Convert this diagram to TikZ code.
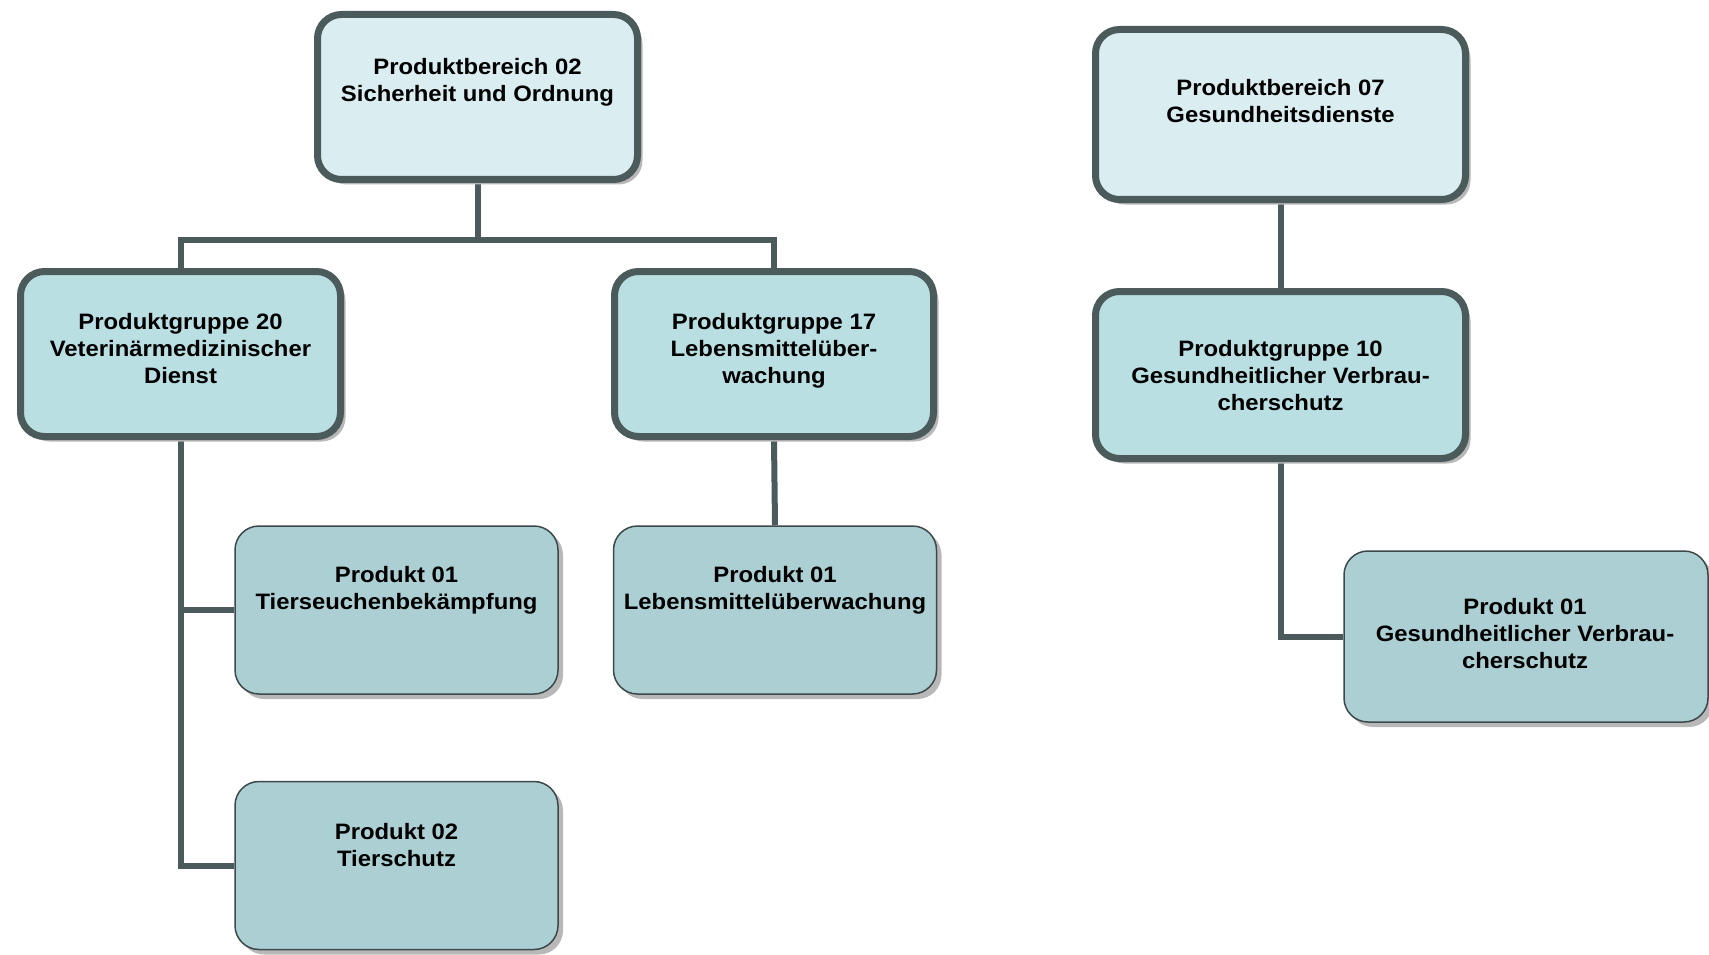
\documentclass[tikz,border=0pt]{standalone}
\usepackage{fontspec}
\setmainfont{Liberation Sans}[FakeStretch=1.07]
\usetikzlibrary{shadows,backgrounds}
\definecolor{bord}{HTML}{4B5A5B}
\definecolor{pbfill}{HTML}{DAEDF0}
\definecolor{pgfill}{HTML}{B9DFE3}
\definecolor{prfill}{HTML}{ABCFD2}
\definecolor{shad}{HTML}{B8B8B8}
\begin{document}
\begin{tikzpicture}[x=1pt,y=-1pt,
  thick box/.style={draw=bord, line width=7pt, rounded corners=24pt, inner sep=0pt,
    drop shadow={shadow xshift=5pt, shadow yshift=-5pt, fill=shad, opacity=1}},
  pbbox/.style={thick box, fill=pbfill},
  pgbox/.style={thick box, fill=pgfill},
  prbox/.style={draw=bord!80!black, line width=1.5pt, rounded corners=24pt, fill=prfill, inner sep=0pt,
    drop shadow={shadow xshift=5pt, shadow yshift=-5pt, fill=shad, opacity=1}},
  txt/.style={anchor=north, align=center, inner sep=0pt, font=\bfseries\fontsize{22.3}{27}\selectfont},
  conn/.style={draw=bord, line width=6pt}
]
\useasboundingbox (0,0) rectangle (1709,955);

\node[pbbox, minimum width=320pt, minimum height=165pt] (pb02) at (477.5,97) {};
\node[pgbox, minimum width=320pt, minimum height=165pt] (pg20) at (180.5,354) {};
\node[pgbox, minimum width=319pt, minimum height=165pt] (pg17) at (774,354) {};
\node[prbox, minimum width=323pt, minimum height=168pt] (p01a) at (396.5,610) {};
\node[prbox, minimum width=323pt, minimum height=168pt] (p02) at (396.5,865.5) {};
\node[prbox, minimum width=323pt, minimum height=168pt] (p01b) at (775,610) {};
\node[pbbox, minimum width=370pt, minimum height=170pt] (pb07) at (1280.5,114.5) {};
\node[pgbox, minimum width=370pt, minimum height=167pt] (pg10) at (1280.5,375) {};
\node[prbox, minimum width=364pt, minimum height=171pt] (p01c) at (1526,636.5) {};

\coordinate (j1) at (477.5,240);

\begin{scope}[on background layer]
\draw[conn] (pb02.south) -- (j1) -| (pg20.north);
\draw[conn] (j1) -| (pg17.north);
\draw[conn] (pg20.south) |- (p01a.west);
\draw[conn] (pg20.south) |- (p02.west);
\draw[conn] (pg17.south) -- (p01b.north);
\draw[conn] (pb07.south) -- (pg10.north);
\draw[conn] (pg10.south) |- (p01c.west);
\end{scope}

\node[txt] (t1) at (477.5,58) {Produktbereich 02\\Sicherheit und Ordnung};
\node[txt] (t2) at (180.5,313) {Produktgruppe 20\\Veterinärmedizinischer\\Dienst};
\node[txt] (t3) at (774,313) {Produktgruppe 17\\Lebensmittelüber-\\wachung};
\node[txt] (t4) at (396.5,566) {Produkt 01\\Tierseuchenbekämpfung};
\node[txt] (t5) at (396.5,823) {Produkt 02\\Tierschutz};
\node[txt] (t6) at (775,566) {Produkt 01\\Lebensmittelüberwachung};
\node[txt] (t7) at (1280.5,79) {Produktbereich 07\\Gesundheitsdienste};
\node[txt] (t8) at (1280.5,340) {Produktgruppe 10\\Gesundheitlicher Verbrau-\\cherschutz};
\node[txt] (t9) at (1525,598) {Produkt 01\\Gesundheitlicher Verbrau-\\cherschutz};
\end{tikzpicture}
\end{document}
